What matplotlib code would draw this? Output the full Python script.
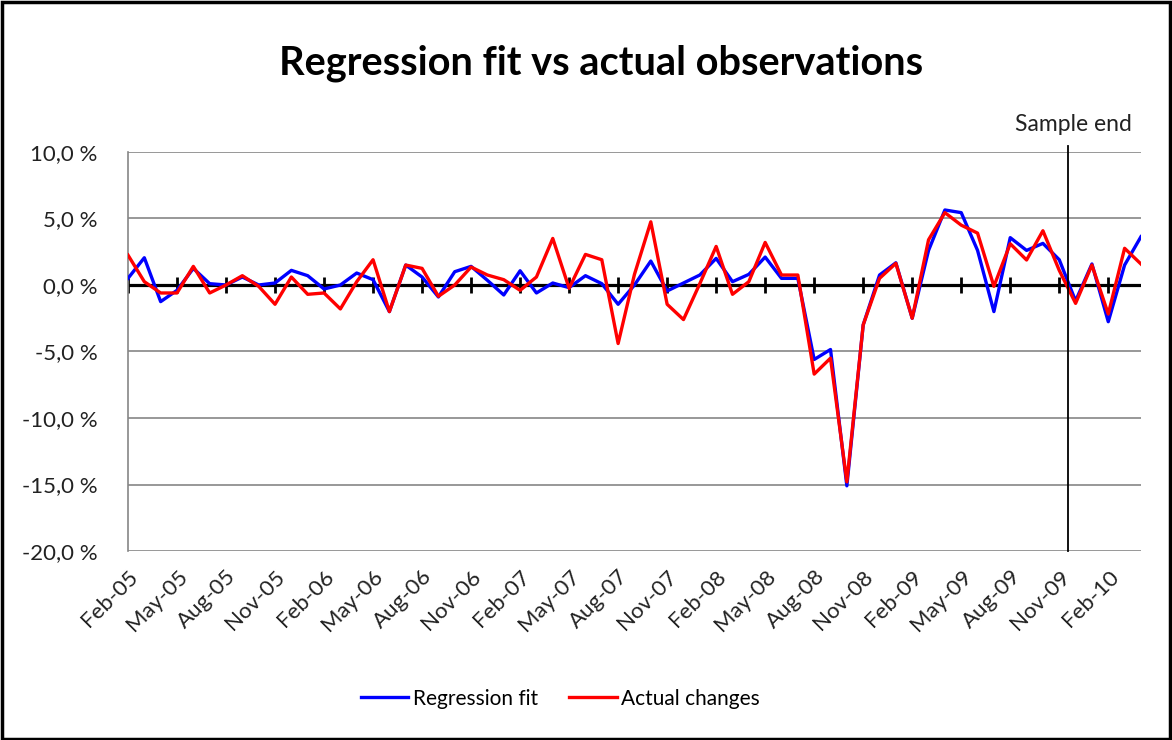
import matplotlib
matplotlib.use("Agg")
import matplotlib.pyplot as plt
import pandas as pd
from matplotlib.patches import Rectangle

plt.rcParams['font.family'] = ['Lato', 'DejaVu Sans']

# monthly data, Feb-05 .. Apr-10 (in %)
months = pd.date_range('2005-02-01', periods=63, freq='MS')
month_labels = [d.strftime('%b-%y') for d in months]

regression_fit = [
    0.5, 2.05, -1.25, -0.4, 1.25, 0.1, 0.0, 0.6, 0.0, 0.15, 1.1, 0.7,
    -0.3, 0.0, 0.9, 0.4, -2.0, 1.5, 0.6, -0.9, 1.0, 1.4, 0.35, -0.75,
    1.07, -0.6, 0.15, -0.2, 0.7, 0.1, -1.45, 0.0, 1.8, -0.45, 0.15, 0.75,
    2.0, 0.25, 0.8, 2.1, 0.5, 0.5, -5.6, -4.85, -15.1, -3.0, 0.75, 1.67,
    -2.5, 2.6, 5.64, 5.44, 2.6, -2.0, 3.56, 2.6, 3.13, 1.9, -1.2, 1.58,
    -2.76, 1.5, 3.63,
]
actual_changes = [
    2.25, 0.25, -0.6, -0.6, 1.4, -0.6, 0.0, 0.7, -0.1, -1.45, 0.6, -0.7,
    -0.6, -1.8, 0.25, 1.9, -2.0, 1.5, 1.25, -0.85, 0.0, 1.35, 0.75, 0.4,
    -0.4, 0.6, 3.5, -0.25, 2.3, 1.9, -4.4, 0.8, 4.75, -1.45, -2.6, 0.1,
    2.9, -0.7, 0.25, 3.2, 0.75, 0.75, -6.7, -5.5, -14.8, -3.0, 0.5, 1.63,
    -2.5, 3.4, 5.44, 4.5, 3.9, -0.1, 3.1, 1.88, 4.08, 1.1, -1.38, 1.5,
    -2.18, 2.76, 1.58,
]
y_ticks = [-20, -15, -10, -5, 0, 5, 10]
sample_end = 57.55  # between Nov-09 and Dec-09

fig = plt.figure(figsize=(11.72, 7.40), dpi=100)
ax = fig.add_axes([0.1092, 0.2554, 0.8643, 0.5392])

x = list(range(len(months)))

# grid
for v in y_ticks:
    if v != 0:
        ax.axhline(v, color='#868686', lw=1.2, zorder=1)
ax.axhline(0, color='black', lw=2.3, zorder=2)
ax.plot(x[::3], [0] * len(x[::3]), ls='none', marker='|', ms=11,
        mew=2, color='black', zorder=2)

ax.plot(x, regression_fit, color='#0000FF', lw=2.4, label='Regression fit', zorder=3)
ax.plot(x, actual_changes, color='#FF0000', lw=2.4, label='Actual changes', zorder=4)

# sample end marker
ax.plot([sample_end, sample_end], [-20, 10.45], color='black', lw=1.3,
        clip_on=False, zorder=5)
ax.text(sample_end + 0.3, 12.1, 'Sample end', ha='center', va='center',
        fontsize=16.5, color='#222222')

ax.set_xlim(0, len(months) - 1)
ax.set_ylim(-20, 10)
ax.set_yticks(y_ticks)
ax.set_yticklabels([f'{v:.1f}'.replace('.', ',') + ' %' for v in y_ticks],
                   fontsize=16, color='#222222')
ax.set_xticks(x[::3])
ax.set_xticklabels(month_labels[::3], rotation=45, ha='right',
                   rotation_mode='anchor', fontsize=16, color='#222222')
ax.tick_params(axis='x', length=0, pad=11)
ax.tick_params(axis='y', length=0, pad=22)

for side in ['top', 'right', 'bottom']:
    ax.spines[side].set_visible(False)
ax.spines['left'].set_color('#868686')
ax.spines['left'].set_linewidth(1.2)

fig.text(0.513, 0.915, 'Regression fit vs actual observations', ha='center',
         va='center', fontsize=28.6, fontweight='bold', color='black')

fig.legend(loc='center', bbox_to_anchor=(0.478, 0.056), ncol=2, frameon=False,
           fontsize=15, handlelength=2.3, handletextpad=0.2, columnspacing=1.5)

fig.patches.append(Rectangle((0.002, 0.002), 0.996, 0.995, transform=fig.transFigure,
                             fill=False, ec='black', lw=2.5))

fig.savefig('out.png', dpi=100)
